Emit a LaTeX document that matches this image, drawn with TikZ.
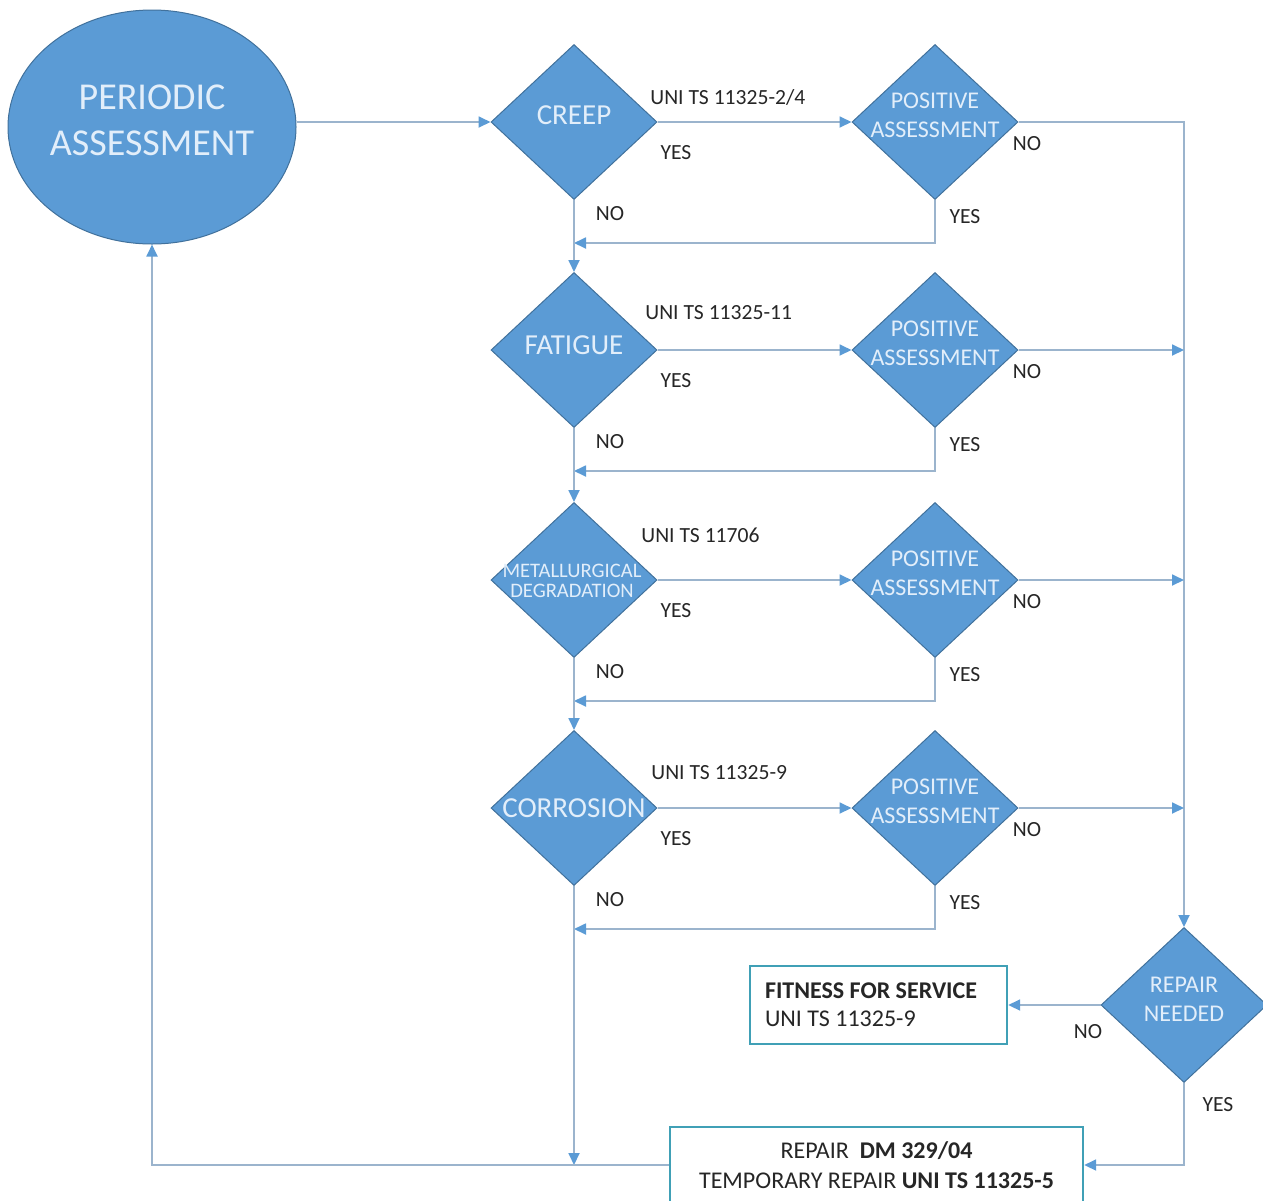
\documentclass[tikz,border=0pt]{standalone}
\usepackage{fontspec}
\setmainfont{Carlito}
\usetikzlibrary{shapes.geometric, arrows.meta}

\definecolor{diafill}{RGB}{91,155,213}
\definecolor{diaedge}{RGB}{65,113,156}
\definecolor{diatext}{RGB}{226,238,250}
\definecolor{flowline}{RGB}{155,180,205}
\definecolor{boxedge}{RGB}{64,160,182}

\begin{document}
\begin{tikzpicture}[x=0.5pt, y=-0.5pt,
    dia/.style={diamond, draw=diaedge, fill=diafill, line width=.5pt,
      minimum width=83pt, minimum height=77.5pt, inner sep=0pt},
    diatxt/.style={text=diatext, align=center, inner sep=0pt, yshift=3.5pt,
      font=\fontsize{12}{14.5}\selectfont},
    bigtxt/.style={diatxt, font=\fontsize{14.5}{17}\selectfont},
    lbl/.style={text=black!85, inner sep=0pt, font=\fontsize{10.8}{13}\selectfont},
    flow/.style={draw=flowline, line width=.9pt,
      -{Triangle[length=6pt, width=5.5pt, color=diafill]}},
    outbox/.style={draw=boxedge, line width=1.2pt, fill=white, inner sep=0pt,
      text=black!85, font=\fontsize{12}{14}\selectfont}]
  \useasboundingbox (0,0) rectangle (1263,1200);

  % start
  \node[ellipse, draw=diaedge, fill=diafill, line width=.5pt, minimum width=144pt,
    minimum height=117pt, inner sep=0pt,
    label={[diatxt, font=\fontsize{19}{23}\selectfont]center:{PERIODIC\\ASSESSMENT}}]
    (periodic) at (152,127) {};

  % damage checks
  \node[dia, label={[bigtxt]center:CREEP}] (chk1) at (574,122) {};
  \node[dia, label={[bigtxt, yshift=-1pt]center:FATIGUE}] (chk2) at (574,350) {};
  \node[dia, label={[diatxt, yshift=-4pt, xshift=-1pt, font=\fontsize{10.3}{10}\selectfont]center:{METALLURGICAL\\DEGRADATION}}]
    (chk3) at (574,580) {};
  \node[dia, label={[bigtxt, yshift=-3.5pt]center:CORROSION}] (chk4) at (574,808) {};

  \node[lbl, anchor=west] (std1) at (650,97) {UNI TS 11325-2/4};
  \node[lbl, anchor=west] (std2) at (645,313) {UNI TS 11325-11};
  \node[lbl, anchor=west] (std3) at (641,535) {UNI TS 11706};
  \node[lbl, anchor=west] (std4) at (651,773) {UNI TS 11325-9};

  \foreach \i/\y in {1/122, 2/350, 3/580, 4/808} {
    \node[dia, label={[diatxt]center:{POSITIVE\\ASSESSMENT}}] (pos\i) at (935,\y) {};
    \draw[flow] (chk\i.east) -- (pos\i.west);
    \coordinate (back\i) at (574,\y+121);
    \draw[flow] (pos\i.south) |- (back\i);
    \node[lbl] (yesc\i) at (676,\y+31) {YES};
    \node[lbl] (noc\i) at (610,\y+92) {NO};
    \node[lbl] (yesp\i) at (965,\y+95) {YES};
    \node[lbl] (nop\i) at (1027,\y+22) {NO};
  }
  \foreach \i/\j in {1/2, 2/3, 3/4}
    \draw[flow] (chk\i.south) -- (chk\j.north);

  % repair decision
  \node[dia, label={[diatxt, yshift=-.5pt]center:{REPAIR\\NEEDED}}] (repair) at (1184,1005) {};
  \draw[flow] (pos1.east) -| (repair.north);
  \foreach \i in {2,3,4}
    \draw[flow] (pos\i.east) -- (pos\i.east -| repair.north);

  \node[outbox, minimum width=128.5pt, minimum height=39pt, text width=113.5pt, align=flush left]
    (fitness) at (878.5,1005) {\textbf{FITNESS FOR SERVICE}\\UNI TS 11325-9};
  \node[outbox, minimum width=206.5pt, minimum height=38pt, align=center,
    font=\fontsize{12}{15}\selectfont]
    (fix) at (876.5,1165) {REPAIR \ \textbf{DM 329/04}\\TEMPORARY REPAIR \textbf{UNI TS 11325-5}};

  \draw[flow] (repair.west) -- (fitness.east);
  \draw[flow] (repair.south) |- (fix.east);
  \node[lbl] (nor) at (1088,1032) {NO};
  \node[lbl] (yesr) at (1218,1105) {YES};

  % back to start
  \draw[flow] (periodic.east |- chk1.west) -- (chk1.west);
  \draw[flow] (chk4.south) -- (chk4.south |- fix.west);
  \draw[flow] (fix.west) -| (periodic.south);
\end{tikzpicture}
\end{document}
